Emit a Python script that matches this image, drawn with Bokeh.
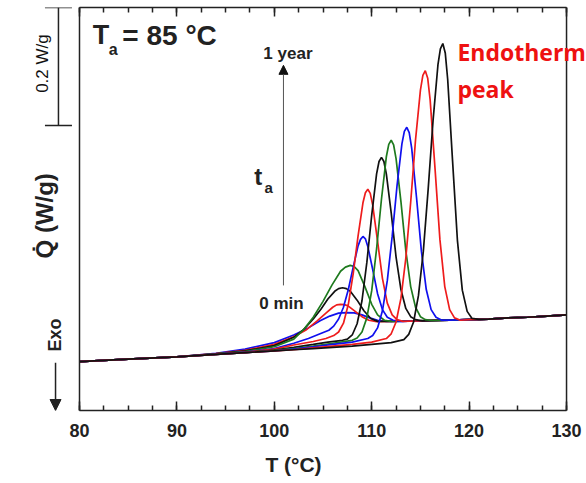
from bokeh.plotting import figure
from bokeh.models import (Range1d, Label, Arrow, NormalHead, TeeHead, LinearAxis,
                          SingleIntervalTicker, Span, CustomJSTickFormatter)
from bokeh.embed import file_html
from bokeh.resources import INLINE

# ---- data (T in °C, heat flow in W/g, arbitrary offset) ----
t1 = [80, 85, 90, 94, 97, 100, 102, 103.5, 104.7, 105.7, 106.6, 107.4, 108.2, 109.0, 109.8, 110.6, 111.5, 113, 116, 118, 120, 122, 124, 126, 128, 130]
q1 = [0.083, 0.087, 0.091, 0.097, 0.104, 0.115, 0.128, 0.140, 0.152, 0.160, 0.165, 0.166, 0.1655, 0.162, 0.157, 0.153, 0.151, 0.151, 0.1525, 0.153, 0.154, 0.155, 0.157, 0.158, 0.160, 0.162]

t2 = [80, 85, 90, 94, 97, 100, 102, 103.3, 104.4, 105.3, 106.0, 106.4, 106.8, 107.2, 107.6, 108.3, 109.0, 109.7, 110.5, 112, 116, 118, 120, 122, 124, 126, 128, 130]
q2 = [0.083, 0.087, 0.091, 0.0965, 0.102, 0.112, 0.125, 0.137, 0.152, 0.165, 0.175, 0.179, 0.180, 0.1795, 0.177, 0.168, 0.159, 0.153, 0.1505, 0.151, 0.1525, 0.153, 0.154, 0.155, 0.157, 0.158, 0.160, 0.162]

t3 = [80, 85, 90, 94, 97, 100, 102, 103, 104, 104.8, 105.5, 106.2, 106.6, 107.0, 107.4, 107.8, 108.5, 109.2, 109.9, 110.6, 112, 116, 118, 120, 122, 124, 126, 128, 130]
q3 = [0.083, 0.087, 0.091, 0.096, 0.101, 0.110, 0.124, 0.137, 0.155, 0.172, 0.189, 0.202, 0.2065, 0.208, 0.2065, 0.202, 0.187, 0.169, 0.156, 0.151, 0.151, 0.1525, 0.153, 0.154, 0.155, 0.157, 0.158, 0.160, 0.162]

t4 = [80, 85, 90, 94, 97, 100, 102, 103, 104, 105, 105.9, 106.8, 107.3, 107.8, 108.2, 108.6, 109.3, 110.0, 110.6, 111.3, 112, 116, 118, 120, 122, 124, 126, 128, 130]
q4 = [0.083, 0.087, 0.091, 0.096, 0.100, 0.108, 0.121, 0.137, 0.158, 0.185, 0.212, 0.236, 0.243, 0.246, 0.244, 0.237, 0.210, 0.180, 0.162, 0.153, 0.151, 0.1525, 0.153, 0.154, 0.155, 0.157, 0.158, 0.160, 0.162]

t5 = [80, 85, 90, 94, 97, 100, 102, 103.5, 104.7, 105.6, 106.1, 106.6, 107.1, 107.6, 108.1, 108.6, 108.85, 109.1, 109.35, 109.6, 110.1, 110.6, 111.1, 111.6, 112.2, 113, 116, 118, 120, 122, 124, 126, 128, 130]
q5 = [0.083, 0.087, 0.091, 0.0955, 0.099, 0.105, 0.114, 0.122, 0.130, 0.136, 0.143, 0.155, 0.175, 0.205, 0.243, 0.279, 0.290, 0.295, 0.291, 0.278, 0.239, 0.198, 0.171, 0.158, 0.153, 0.151, 0.1525, 0.153, 0.154, 0.155, 0.157, 0.158, 0.160, 0.162]

t6 = [80, 85, 90, 94, 97, 100, 102, 104, 105.3, 106.1, 106.6, 107.1, 107.6, 108.1, 108.6, 109.1, 109.35, 109.6, 109.85, 110.1, 110.6, 111.1, 111.6, 112.1, 112.6, 113.2, 116, 118, 120, 122, 124, 126, 128, 130]
q6 = [0.083, 0.087, 0.091, 0.095, 0.0985, 0.104, 0.111, 0.117, 0.122, 0.127, 0.133, 0.148, 0.180, 0.232, 0.296, 0.352, 0.369, 0.375, 0.368, 0.348, 0.287, 0.224, 0.182, 0.162, 0.154, 0.151, 0.1525, 0.153, 0.154, 0.155, 0.157, 0.158, 0.160, 0.162]

t7 = [80, 85, 90, 94, 97, 100, 102, 104, 105.5, 107.0, 107.5, 108.0, 108.5, 109.0, 109.5, 110.0, 110.5, 110.75, 111.0, 111.25, 111.5, 112.0, 112.5, 113.0, 113.5, 114.0, 114.5, 115.2, 118, 120, 122, 124, 126, 128, 130]
q7 = [0.083, 0.087, 0.091, 0.095, 0.098, 0.1025, 0.107, 0.112, 0.116, 0.119, 0.121, 0.128, 0.147, 0.186, 0.251, 0.331, 0.401, 0.422, 0.429, 0.422, 0.401, 0.335, 0.260, 0.205, 0.173, 0.159, 0.154, 0.152, 0.153, 0.154, 0.155, 0.157, 0.158, 0.160, 0.162]

t8 = [80, 85, 90, 94, 97, 100, 102, 104, 106, 108.0, 108.5, 109.0, 109.5, 110.0, 110.5, 111.0, 111.5, 111.75, 112.0, 112.25, 112.5, 113.0, 113.5, 114.0, 114.5, 115.0, 115.5, 116.2, 118, 120, 122, 124, 126, 128, 130]
q8 = [0.083, 0.087, 0.091, 0.095, 0.098, 0.102, 0.105, 0.109, 0.114, 0.119, 0.123, 0.133, 0.157, 0.203, 0.274, 0.358, 0.430, 0.451, 0.458, 0.450, 0.427, 0.354, 0.271, 0.210, 0.175, 0.159, 0.154, 0.1525, 0.153, 0.154, 0.155, 0.157, 0.158, 0.160, 0.162]

t9 = [80, 85, 90, 94, 97, 100, 102, 104, 106, 108, 109.6, 110.1, 110.6, 111.1, 111.6, 112.1, 112.6, 113.1, 113.35, 113.6, 113.85, 114.1, 114.6, 115.1, 115.6, 116.1, 116.6, 117.2, 118, 120, 122, 124, 126, 128, 130]
q9 = [0.083, 0.087, 0.091, 0.095, 0.098, 0.101, 0.104, 0.108, 0.112, 0.116, 0.122, 0.127, 0.140, 0.169, 0.220, 0.295, 0.381, 0.452, 0.473, 0.480, 0.471, 0.445, 0.361, 0.270, 0.205, 0.171, 0.158, 0.153, 0.153, 0.154, 0.155, 0.157, 0.158, 0.160, 0.162]

t10 = [80, 85, 90, 94, 97, 100, 102, 104, 106, 108, 110, 111.5, 112.0, 112.5, 113.0, 113.5, 114.0, 114.5, 115.0, 115.25, 115.5, 115.75, 116.0, 116.5, 117.0, 117.5, 118.0, 118.5, 119.1, 120, 122, 124, 126, 128, 130]
q10 = [0.083, 0.087, 0.091, 0.095, 0.098, 0.101, 0.103, 0.106, 0.109, 0.112, 0.116, 0.122, 0.130, 0.150, 0.190, 0.258, 0.353, 0.459, 0.543, 0.568, 0.576, 0.563, 0.526, 0.410, 0.290, 0.210, 0.171, 0.157, 0.153, 0.154, 0.155, 0.157, 0.158, 0.160, 0.162]

t11 = [80, 85, 90, 94, 97, 100, 102, 104, 106, 108, 110, 112, 113.3, 113.8, 114.3, 114.8, 115.3, 115.8, 116.3, 116.8, 117.05, 117.3, 117.55, 117.8, 118.3, 118.8, 119.3, 119.8, 120.3, 121.0, 122, 124, 126, 128, 130]
q11 = [0.083, 0.087, 0.091, 0.095, 0.098, 0.101, 0.103, 0.105, 0.107, 0.109, 0.112, 0.115, 0.120, 0.129, 0.150, 0.195, 0.270, 0.376, 0.492, 0.586, 0.613, 0.622, 0.606, 0.561, 0.423, 0.288, 0.204, 0.168, 0.156, 0.1545, 0.155, 0.157, 0.158, 0.160, 0.162]

temps = [t1, t2, t3, t4, t5, t6, t7, t8, t9, t10, t11]
flows = [q1, q2, q3, q4, q5, q6, q7, q8, q9, q10, q11]
colors = ["#1010ee", "#ee1c1c", "#111111", "#1e7a1e", "#1010ee", "#ee1c1c", "#111111", "#1e7a1e", "#1010ee", "#ee1c1c", "#111111"]

x_axis_bounds = (80, 130)
x_ticks_interval = 10
scale_bar = 0.2  # W/g
FONT = "Liberation Sans"
INK = "#222222"

# the frame spans the whole width so that notes outside the axes box can be drawn;
# the axes box itself is drawn from bounded axes and two spans at 80 and 130 °C
p = figure(width=586, height=483, output_backend="svg", toolbar_location=None,
           x_range=Range1d(71.89, 132.05), y_range=Range1d(0, 0.683),
           y_axis_location=None,
           min_border_left=0, min_border_right=0, min_border_top=7, min_border_bottom=73)
p.grid.visible = False
p.outline_line_color = None
p.background_fill_color = "white"
p.border_fill_color = "white"

def style_axis(ax):
    ax.bounds = x_axis_bounds
    ax.ticker = SingleIntervalTicker(interval=x_ticks_interval, num_minor_ticks=4)
    ax.major_tick_in = 9
    ax.major_tick_out = 0
    ax.minor_tick_in = 5
    ax.minor_tick_out = 0
    ax.axis_line_width = 1.5
    ax.axis_line_color = INK
    ax.major_tick_line_width = 1.5
    ax.major_tick_line_color = INK
    ax.minor_tick_line_width = 1.5
    ax.minor_tick_line_color = INK

xa = p.xaxis[0]
style_axis(xa)
xa.major_label_text_font = FONT
xa.major_label_text_font_style = "bold"
xa.major_label_text_font_size = "18px"
xa.major_label_text_color = INK
xa.major_label_standoff = 13
xa.axis_label = "T (°C)"
xa.axis_label_text_font = FONT
xa.axis_label_text_font_style = "bold"
xa.axis_label_text_font_size = "21px"
xa.axis_label_text_color = INK
xa.axis_label_standoff = 13

top = LinearAxis(formatter=CustomJSTickFormatter(code="return ''"), major_label_standoff=0)
style_axis(top)
p.add_layout(top, "above")

for xb in x_axis_bounds:
    p.add_layout(Span(location=xb, dimension="height", line_color=INK, line_width=1.5))

for tt, qq, cc in zip(temps, flows, colors):
    p.line(tt, qq, line_color=cc, line_width=1.7)

def lab(x, y, text, size, color=INK, style="bold", align="left", baseline="middle", angle=0.0, font=FONT):
    p.add_layout(Label(x=x, y=y, text=text, text_font=font, text_font_size=size,
                       text_font_style=style, text_color=color, text_align=align,
                       text_baseline=baseline, angle=angle))

# T_a = 85 °C
lab(81.35, 0.636, "T", "27px")
lab(83.0, 0.611, "a", "16px")
lab(84.4, 0.636, "= 85 °C", "28px")

# aging time arrow
p.add_layout(Arrow(x_start=100.94, y_start=0.212, x_end=100.94, y_end=0.585,
                   line_color="#555555", line_width=1,
                   end=NormalHead(size=9, fill_color="#111111", line_color="#111111")))
lab(101.4, 0.605, "1 year", "17px", align="center")
lab(100.74, 0.181, "0 min", "17px", align="center")
lab(97.95, 0.397, "t", "24px")
lab(99.0, 0.378, "a", "15px")

# endothermic peak note (runs off the right edge as in the original)
lab(118.8, 0.607, "Endothermic", "23px", color="#ee1111", font="Open Sans")
lab(118.8, 0.545, "peak", "23px", color="#ee1111", font="Open Sans")

# scale bar 0.2 W/g
p.add_layout(Arrow(x_start=77.84, y_start=0.683 - scale_bar, x_end=77.84, y_end=0.683,
                   line_color=INK, line_width=1.5,
                   start=TeeHead(size=27, line_color=INK, line_width=1.5),
                   end=TeeHead(size=27, line_color=INK, line_width=1.5)))
lab(76.2, 0.588, "0.2 W/g", "17px", style="normal", color="#111111", align="center", angle=1.5708)

# y label
lab(76.45, 0.330, "Q\u0307 (W/g)", "24px", align="center", angle=1.5708)

# Exo arrow
lab(77.45, 0.128, "Exo", "18px", align="center", angle=1.5708)
p.add_layout(Arrow(x_start=77.54, y_start=0.081, x_end=77.54, y_end=0.0,
                   line_color=INK, line_width=1.5,
                   end=NormalHead(size=11, fill_color=INK, line_color=INK)))

open("out.html", "w").write(file_html(p, INLINE))
